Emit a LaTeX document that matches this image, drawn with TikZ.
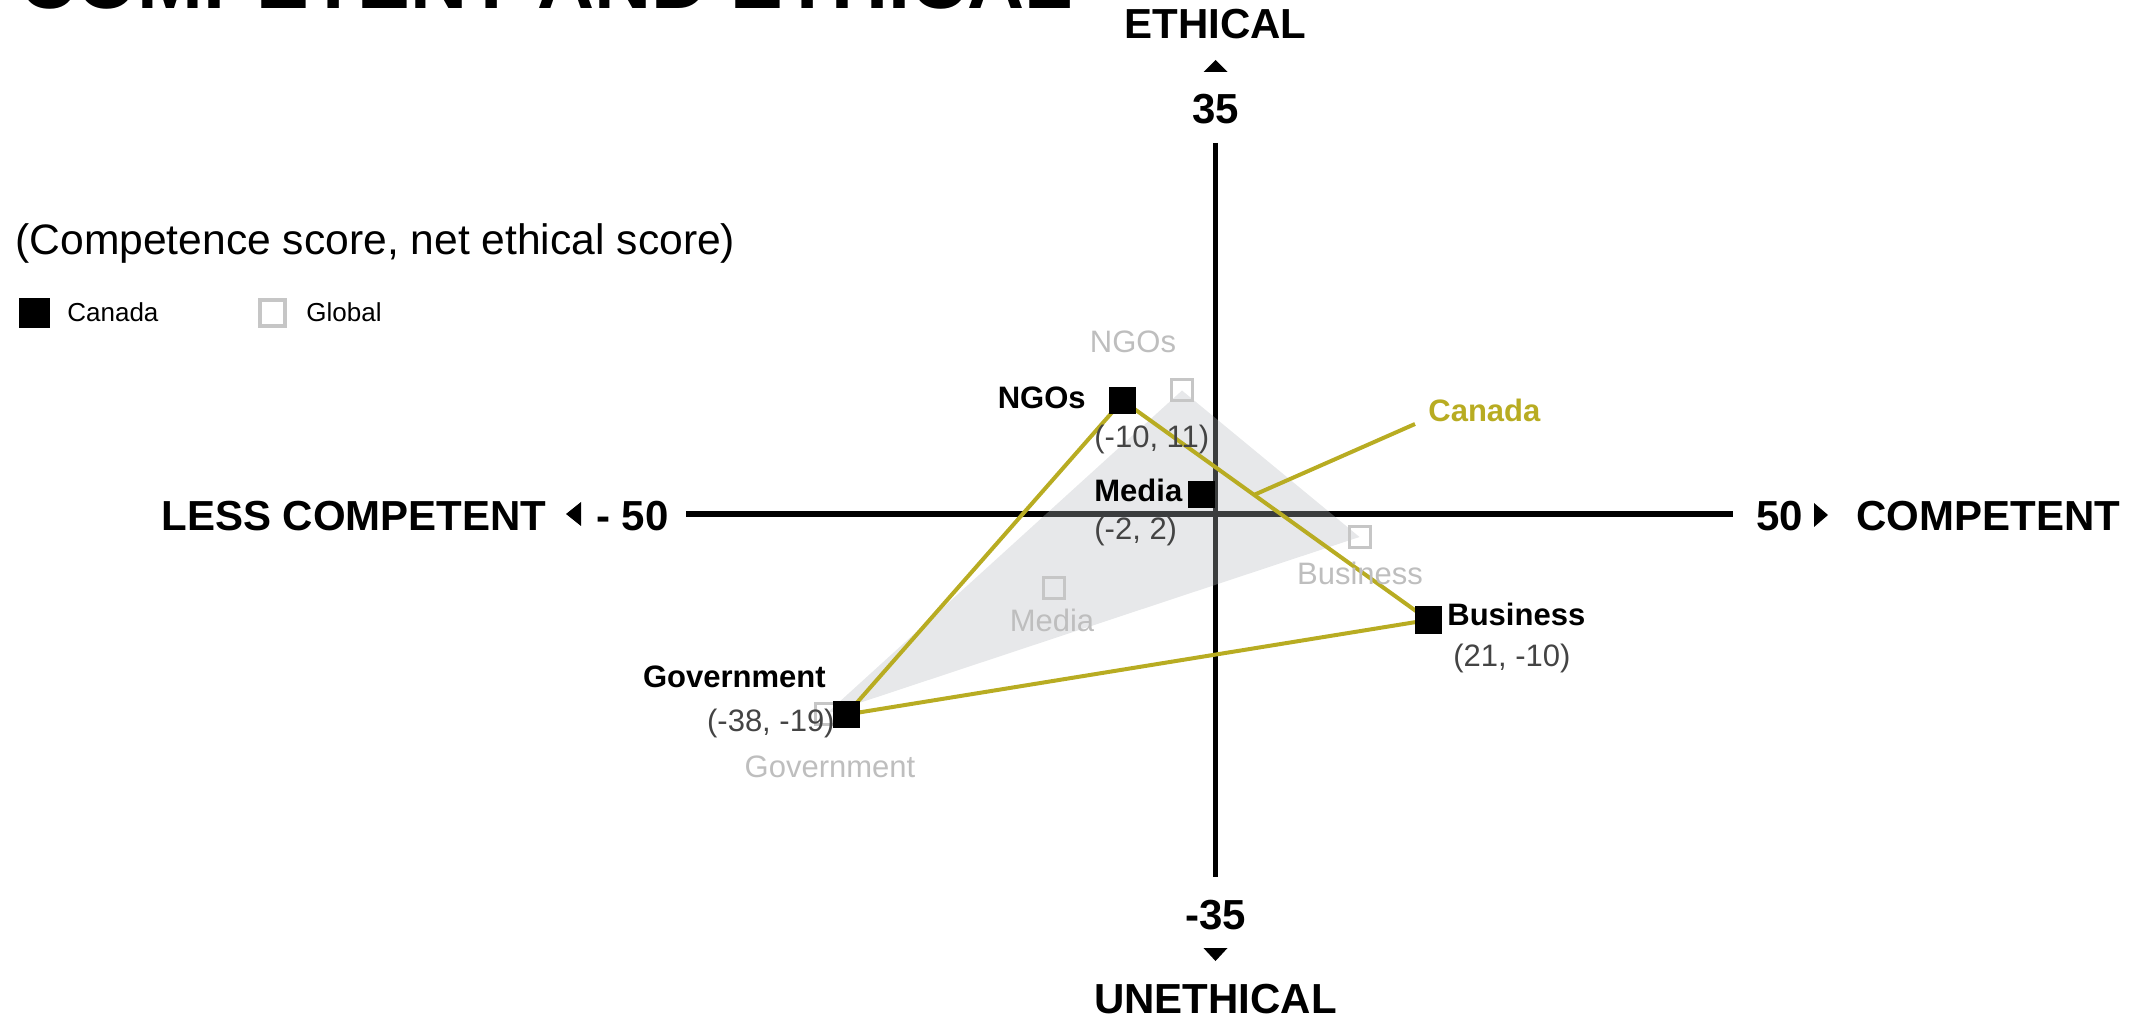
\documentclass[tikz,border=0pt]{standalone}
\usepackage{fontspec}
\setmainfont{Liberation Sans}
\usetikzlibrary{calc}
\pgfdeclarelayer{bg}
\pgfdeclarelayer{mid}
\pgfsetlayers{bg,mid,main}
\definecolor{canyel}{RGB}{184,172,34}
\definecolor{glgray}{RGB}{190,190,190}
\definecolor{hollowgray}{RGB}{198,198,198}
\definecolor{coordgray}{RGB}{68,68,68}
\definecolor{fillgray}{RGB}{182,186,190}
\tikzset{
  cmark/.style={fill=black, draw=none, minimum size=13.5pt, inner sep=0pt, outer sep=0pt},
  gmark/.style={draw=hollowgray, line width=1.5pt, fill=none, minimum size=10.5pt, inner sep=0pt},
  axlbl/.style={font=\fontsize{21}{24}\selectfont\bfseries, inner sep=0pt},
  ptlbl/.style={font=\fontsize{15.5}{18}\selectfont\bfseries, inner sep=0pt},
  ptcoord/.style={font=\fontsize{15.5}{18}\selectfont, text=coordgray, inner sep=0pt},
  gllbl/.style={font=\fontsize{15.5}{18}\selectfont, text=glgray, inner sep=0pt},
  canline/.style={draw=canyel, line width=2pt, line join=round},
  axisline/.style={line width=2.75pt},
  tri/.style={fill=black},
  legtxt/.style={font=\fontsize{13}{15}\selectfont, inner sep=0pt},
}
\begin{document}
\begin{tikzpicture}[x=0.5pt,y=-0.5pt]
\useasboundingbox (0,0) rectangle (2134,1020);

% title (cut off at top, as in the reference)
\node[font=\fontsize{39.5}{44}\selectfont\bfseries, inner sep=0pt, anchor=base west] (title) at (19,9) {COMPETENT AND ETHICAL};

% subtitle and legend
\node[font=\fontsize{21.3}{25}\selectfont, inner sep=0pt, anchor=base west] (sub) at (15,255) {(Competence score, net ethical score)};
\node[fill=black, minimum width=15.5pt, minimum height=15pt, inner sep=0pt] (legc) at (34.5,313) {};
\node[legtxt, anchor=base west] (legct) at (67,322) {Canada};
\node[draw=hollowgray, line width=1.8pt, minimum width=12.7pt, minimum height=13.2pt, inner sep=0pt] (legg) at (272.5,313) {};
\node[legtxt, anchor=base west] (leggt) at (306,322) {Global};

% coordinates of the points
\coordinate (ngo) at (1122.5,400.5);
\coordinate (med) at (1201.5,494.5);
\coordinate (bus) at (1428.5,620);
\coordinate (gov) at (846.5,714.5);
\coordinate (gngo) at (1182,390.5);
\coordinate (gmed) at (1053.5,588.5);
\coordinate (gbus) at (1359.5,537);
\coordinate (ggov) at (826,714);

% axes
\coordinate (axl) at (686,514);
\coordinate (axr) at (1733,514);
\coordinate (axt) at (1215.5,143);
\coordinate (axb) at (1215.5,877);
\begin{pgfonlayer}{bg}
\draw[axisline] (axl) -- (axr);
\draw[axisline] (axt) -- (axb);
\fill[fillgray, fill opacity=0.33] (gngo) -- (gbus) -- (ggov) -- cycle;
\end{pgfonlayer}

% axis labels
\node[axlbl, anchor=base] (eth) at (1215.5,39) {ETHICAL};
\fill[tri] (1203.5,72) -- (1227.5,72) -- (1215.5,60) -- cycle;
\node[axlbl, anchor=base] (p35) at (1215.5,124) {35};
\node[axlbl, anchor=base] (m35) at (1215.5,929) {-35};
\fill[tri] (1203.5,948) -- (1227.5,948) -- (1215.5,961) -- cycle;
\node[axlbl, anchor=base] (uneth) at (1215.5,1013) {UNETHICAL};
\node[axlbl, anchor=base east] (lessc) at (547,531) {LESS COMPETENT};
\fill[tri] (581,502) -- (581,526) -- (566,514) -- cycle;
\node[axlbl, anchor=base east] (m50) at (669,531) {- 50};
\node[axlbl, anchor=base west] (p50) at (1756,531) {50};
\fill[tri] (1814,503) -- (1814,527) -- (1828,515) -- cycle;
\node[axlbl, anchor=base west] (comp) at (1856,531) {COMPETENT};

% Canada triangle
\begin{pgfonlayer}{mid}
\draw[canline] (ngo) -- (bus) -- (gov) -- cycle;
\end{pgfonlayer}
\node[font=\fontsize{15.5}{18}\selectfont\bfseries, text=canyel, inner sep=0pt, anchor=base west] (canlbl) at (1428,422) {Canada};
\coordinate (lead) at (1415,424);
\begin{pgfonlayer}{mid}
\draw[canline] (lead) -- ($(ngo)!0.43!(bus)$);
\end{pgfonlayer}

% global markers
\node[gmark] (mgngo) at (gngo) {};
\node[gmark] (mgmed) at (gmed) {};
\node[gmark] (mgbus) at (gbus) {};
\node[gmark] (mggov) at (ggov) {};

% Canada markers
\node[cmark] (mngo) at (ngo) {};
\node[cmark] (mmed) at (med) {};
\node[cmark] (mbus) at (bus) {};
\node[cmark] (mgov) at (gov) {};

% global labels
\node[gllbl, anchor=base] (lgngo) at (1133,353) {NGOs};
\node[gllbl, anchor=base] (lgbus) at (1360,585) {Business};
\node[gllbl, anchor=base] (lgmed) at (1052,632) {Media};
\node[gllbl, anchor=base] (lggov) at (830,777) {Government};

% Canada labels
\node[ptlbl, anchor=base east] (lngo) at (1086,409) {NGOs};
\node[ptcoord, anchor=base west] (cngo) at (1094,448) {(-10, 11)};
\node[ptlbl, anchor=base west] (lmed) at (1094,502) {Media};
\node[ptcoord, anchor=base west] (cmed) at (1094,540) {(-2, 2)};
\node[ptlbl, anchor=base west] (lbus) at (1447,625) {Business};
\node[ptcoord, anchor=base west] (cbus) at (1453,666) {(21, -10)};
\node[ptlbl, anchor=base east] (lgov) at (826,687) {Government};
\node[ptcoord, anchor=base east] (cgov) at (835,731) {(-38, -19)};
\end{tikzpicture}
\end{document}
